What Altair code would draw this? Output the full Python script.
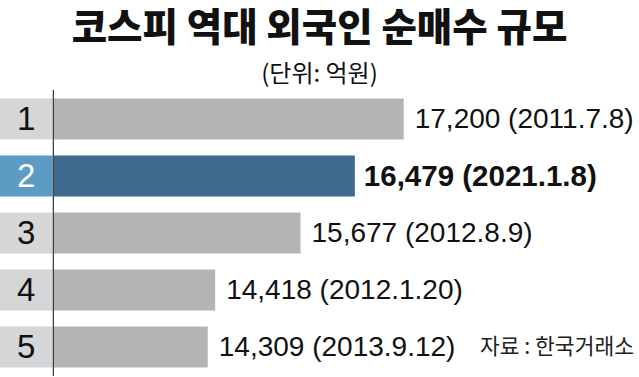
import altair as alt
import pandas as pd

ranks = ["1", "2", "3", "4", "5"]
values = [17200, 16479, 15677, 14418, 14309]
dates = ["2011.7.8", "2021.1.8", "2012.8.9", "2012.1.20", "2013.9.12"]
highlight_rank = "2"
source_text = "자료 : 한국거래소"

df = pd.DataFrame({
    "rank": ranks,
    "value": values,
    "date": dates,
})
df["label"] = [f"{v:,} ({d})" for v, d in zip(values, dates)]

X_MIN, X_MAX = 11243, 20672
BASE = 12040
BOX_END = 12020
LINE_AT = 12030
BOX_MID = 11630

xs = alt.Scale(domain=[X_MIN, X_MAX], zero=False, nice=False)
ys = alt.Scale(domain=ranks, paddingInner=0.28, paddingOuter=0.15)

LABEL_FONT = "Liberation Sans"
is_hl = f"datum.rank === '{highlight_rank}'"

base = alt.Chart(df).transform_calculate(
    box_start=str(X_MIN), box_end=str(BOX_END), bar_base=str(BASE),
    line_at=str(LINE_AT), box_mid=str(BOX_MID),
)

Y = alt.Y("rank:N", scale=ys, axis=None)

boxes = base.mark_rect().encode(
    y=Y,
    x=alt.X("box_start:Q", scale=xs, axis=None),
    x2="box_end:Q",
    color=alt.condition(is_hl, alt.value("#5b9bc4"), alt.value("#d5d6d8")),
)

bars = base.mark_rect().encode(
    y=Y,
    x=alt.X("value:Q", scale=xs, axis=None),
    x2="bar_base:Q",
    color=alt.condition(is_hl, alt.value("#3f6a8f"), alt.value("#b3b4b6")),
)

rule = base.transform_filter("datum.rank === '1'").mark_rule(color="#333333", strokeWidth=1.2).encode(
    x=alt.X("line_at:Q", scale=xs, axis=None),
)

rank_text = base.mark_text(font=LABEL_FONT, fontSize=33, align="center", baseline="middle", dy=1).encode(
    y=Y,
    x=alt.X("box_mid:Q", scale=xs, axis=None),
    text="rank:N",
    color=alt.condition(is_hl, alt.value("#ffffff"), alt.value("#111111")),
)

labels = base.transform_filter(f"datum.rank !== '{highlight_rank}'").mark_text(
    font=LABEL_FONT, fontSize=28, align="left", baseline="middle", dx=11, dy=1, color="#111111"
).encode(
    y=Y,
    x=alt.X("value:Q", scale=xs, axis=None),
    text="label:N",
)

labels_hl = base.transform_filter(is_hl).mark_text(
    font=LABEL_FONT, fontSize=29.5, fontWeight="bold", align="left", baseline="middle", dx=9, dy=1, color="#111111"
).encode(
    y=Y,
    x=alt.X("value:Q", scale=xs, axis=None),
    text="label:N",
)

source = base.transform_filter("datum.rank === '5'").mark_text(
    font="Noto Sans CJK KR", fontSize=21.5, align="right", baseline="middle", dy=1, color="#222222",
    text=source_text,
).encode(
    y=Y,
    x=alt.value(634),
)

chart = alt.layer(boxes, bars, rule, rank_text, labels, labels_hl, source).properties(
    width=639,
    height=286,
    padding={"left": 0, "right": 0, "top": 90, "bottom": 1},
    autosize=alt.AutoSizeParams(type="none"),
    title=alt.TitleParams(
        text="코스피 역대 외국인 순매수 규모",
        subtitle="(단위: 억원)",
        font="Noto Sans CJK KR",
        fontSize=38.5,
        fontWeight=900,
        color="#111111",
        subtitleFont="Noto Sans CJK KR",
        subtitleFontSize=24,
        subtitleColor="#111111",
        subtitlePadding=14,
        anchor="middle",
        offset=1,
    ),
).configure_view(stroke=None)

chart.save("out.html", embed_options={"renderer": "svg", "actions": False})
